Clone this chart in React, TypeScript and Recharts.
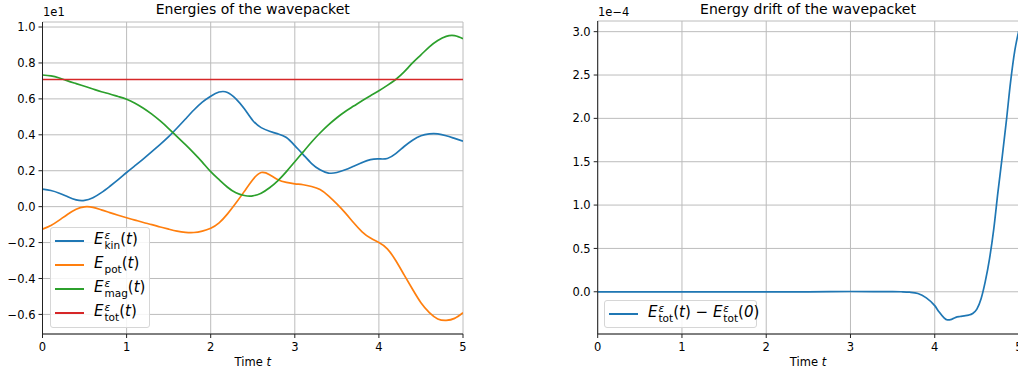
import React from 'react'
import {
  LineChart,
  Line,
  XAxis,
  YAxis,
  CartesianGrid,
} from 'recharts'

// time grid for the left panel (step 0.1)
const TIME = [
  0, 0.1, 0.2, 0.3, 0.4, 0.5, 0.6, 0.7, 0.8, 0.9,
  1, 1.1, 1.2, 1.3, 1.4, 1.5, 1.6, 1.7, 1.8, 1.9,
  2, 2.1, 2.2, 2.3, 2.4, 2.5, 2.6, 2.7, 2.8, 2.9,
  3, 3.1, 3.2, 3.3, 3.4, 3.5, 3.6, 3.7, 3.8, 3.9,
  4, 4.1, 4.2, 4.3, 4.4, 4.5, 4.6, 4.7, 4.8, 4.9,
  5,
]

// energies, in units of 1e1
const E_KIN = [
  0.098, 0.09, 0.075, 0.055, 0.038, 0.035, 0.05, 0.078, 0.113, 0.15,
  0.19, 0.228, 0.266, 0.306, 0.347, 0.39, 0.438, 0.488, 0.538, 0.582,
  0.615, 0.638, 0.636, 0.6, 0.545, 0.48, 0.44, 0.42, 0.405, 0.385,
  0.34, 0.29, 0.24, 0.205, 0.187, 0.19, 0.205, 0.225, 0.245, 0.262,
  0.266, 0.268, 0.295, 0.335, 0.37, 0.395, 0.405, 0.405, 0.395, 0.38,
  0.365,
]
const E_POT = [
  -0.125, -0.105, -0.075, -0.042, -0.014, -0.001, -0.004, -0.018, -0.033, -0.048,
  -0.062, -0.075, -0.088, -0.1, -0.113, -0.125, -0.136, -0.143, -0.144, -0.136,
  -0.12, -0.09, -0.04, 0.02, 0.085, 0.15, 0.19, 0.178, 0.15, 0.135,
  0.127, 0.122, 0.112, 0.095, 0.06, 0.015, -0.035, -0.09, -0.14, -0.175,
  -0.2, -0.235, -0.3, -0.38, -0.46, -0.535, -0.59, -0.625, -0.633, -0.622,
  -0.59,
]
const E_MAG = [
  0.733, 0.728, 0.716, 0.7, 0.685, 0.67, 0.655, 0.64, 0.627, 0.613,
  0.598, 0.576, 0.548, 0.515, 0.477, 0.435, 0.39, 0.345, 0.298, 0.248,
  0.195, 0.15, 0.108, 0.077, 0.062, 0.06, 0.075, 0.105, 0.145, 0.195,
  0.25, 0.305, 0.36, 0.41, 0.455, 0.495, 0.53, 0.56, 0.59, 0.618,
  0.645, 0.675, 0.708, 0.75, 0.8, 0.845, 0.89, 0.925, 0.948, 0.952,
  0.935,
]
const TOT_TIME = [0, 5]
const E_TOT = [0.708, 0.708]

// drift, in units of 1e-4
const DRIFT_TIME = [
  0, 0.5, 1, 1.5, 2, 2.5, 3, 3.5, 3.6, 3.7, 3.8, 3.9, 4, 4.05, 4.1, 4.15, 4.2,
  4.25, 4.3, 4.35, 4.4, 4.45, 4.5, 4.55, 4.6, 4.65, 4.7, 4.75, 4.8, 4.85, 4.9,
  4.95, 5,
]
const DRIFT = [
  0, 0, 0, 0, 0, 0, 0.003, 0.002, 0, -0.005, -0.02, -0.07, -0.16, -0.23, -0.29,
  -0.325, -0.318, -0.295, -0.285, -0.278, -0.27, -0.25, -0.2, -0.08, 0.12, 0.38,
  0.72, 1.15, 1.55, 1.97, 2.42, 2.78, 3.02,
]

const X_TICKS = [0, 1, 2, 3, 4, 5]
const LEFT_Y_TICKS = [-0.6, -0.4, -0.2, 0, 0.2, 0.4, 0.6, 0.8, 1.0]
const RIGHT_Y_TICKS = [0, 0.5, 1, 1.5, 2, 2.5, 3]

const BLUE = '#1f77b4'
const ORANGE = '#ff7f0e'
const GREEN = '#2ca02c'
const RED = '#d62728'

const FONT = '"DejaVu Sans", sans-serif'
const SPINE = '#222'
const GRID = '#bcbcbc'

const energyData = TIME.map((t, i) => ({ t, kin: E_KIN[i], pot: E_POT[i], mag: E_MAG[i] }))
const totData = TOT_TIME.map((t, i) => ({ t, tot: E_TOT[i] }))
const driftData = DRIFT_TIME.map((t, i) => ({ t, drift: DRIFT[i] }))

const fmt = (v: number) => {
  const s = Math.abs(v).toFixed(1)
  return v < -1e-9 ? '\u2212' + s : s
}

const tickStyle = { fill: '#000', fontSize: 11.5, fontFamily: FONT }

function Sym({ sup, sub, arg }: { sup?: string; sub: string; arg: string }) {
  return (
    <span style={{ whiteSpace: 'nowrap' }}>
      <i>E</i>
      <span
        style={{
          display: 'inline-flex',
          flexDirection: 'column',
          fontSize: '0.7em',
          lineHeight: 0.95,
          verticalAlign: '0.5em',
          marginLeft: 1,
        }}
      >
        <i>{sup || '\u00a0'}</i>
        <span>{sub}</span>
      </span>
      (<i>{arg}</i>)
    </span>
  )
}

function LegendRow({ color, children }: { color: string; children: React.ReactNode }) {
  return (
    <div style={{ height: 24, display: 'flex', alignItems: 'center' }}>
      <div style={{ width: 29, height: 1.7, background: color, marginLeft: 4, marginRight: 10, flex: 'none' }} />
      <div style={{ fontSize: 15, lineHeight: '15px', whiteSpace: 'nowrap' }}>{children}</div>
    </div>
  )
}

const legendBox: React.CSSProperties = {
  position: 'absolute',
  border: '1px solid #d6d6d6',
  borderRadius: 3,
  background: 'rgba(255,255,255,0.85)',
  fontFamily: FONT,
  color: '#000',
  boxSizing: 'border-box',
}

function TextAt({ x, y, size, children, center }: { x: number; y: number; size: number; children: React.ReactNode; center?: boolean }) {
  return (
    <div
      style={{
        position: 'absolute',
        left: x,
        top: y,
        fontSize: size,
        lineHeight: 1,
        fontFamily: FONT,
        color: '#000',
        whiteSpace: 'nowrap',
        transform: center ? 'translateX(-50%)' : undefined,
      }}
    >
      {children}
    </div>
  )
}

export default function App() {
  return (
    <div
      style={{
        position: 'absolute',
        left: 0,
        top: 0,
        width: 1018,
        height: 374,
        overflow: 'hidden',
        background: '#fff',
      }}
    >
      {/* left panel */}
      <div style={{ position: 'absolute', left: 0, top: 0 }}>
        <LineChart width={480} height={374} data={energyData} margin={{ top: 22, right: 17, bottom: 0, left: 0 }}>
          <CartesianGrid stroke={GRID} strokeWidth={1} />
          <XAxis
            dataKey="t"
            type="number"
            domain={[0, 5]}
            ticks={X_TICKS}
            interval={0}
            height={40}
            tickSize={4}
            tickMargin={5}
            tick={tickStyle}
            tickLine={{ stroke: SPINE }}
            axisLine={{ stroke: SPINE }}
            allowDataOverflow
          />
          <YAxis
            type="number"
            domain={[-0.709, 1.028]}
            ticks={LEFT_Y_TICKS}
            interval={0}
            width={42.5}
            tickSize={4}
            tickMargin={3}
            tick={tickStyle}
            tickFormatter={fmt}
            tickLine={{ stroke: SPINE }}
            axisLine={{ stroke: SPINE }}
            allowDataOverflow
          />
          <XAxis xAxisId="top" orientation="top" type="number" domain={[0, 5]} height={0} tick={false} tickLine={false} axisLine={{ stroke: SPINE }} />
          <YAxis yAxisId="right" orientation="right" type="number" domain={[0, 1]} width={0} tick={false} tickLine={false} axisLine={{ stroke: SPINE }} />
          <Line type="natural" dataKey="kin" stroke={BLUE} strokeWidth={1.7} dot={false} isAnimationActive={false} />
          <Line type="natural" dataKey="pot" stroke={ORANGE} strokeWidth={1.7} dot={false} isAnimationActive={false} />
          <Line type="natural" dataKey="mag" stroke={GREEN} strokeWidth={1.7} dot={false} isAnimationActive={false} />
          <Line type="linear" data={totData} dataKey="tot" stroke={RED} strokeWidth={1.7} dot={false} isAnimationActive={false} />
        </LineChart>
      </div>

      {/* right panel */}
      <div style={{ position: 'absolute', left: 550, top: 0 }}>
        <LineChart width={486} height={374} data={driftData} margin={{ top: 21, right: 17, bottom: 0, left: 0 }}>
          <CartesianGrid stroke={GRID} strokeWidth={1} />
          <XAxis
            dataKey="t"
            type="number"
            domain={[0, 5]}
            ticks={X_TICKS}
            interval={0}
            height={40}
            tickSize={4}
            tickMargin={5}
            tick={tickStyle}
            tickLine={{ stroke: SPINE }}
            axisLine={{ stroke: SPINE }}
            allowDataOverflow
          />
          <YAxis
            type="number"
            domain={[-0.487, 3.123]}
            ticks={RIGHT_Y_TICKS}
            interval={0}
            width={47.7}
            tickSize={4}
            tickMargin={3}
            tick={tickStyle}
            tickFormatter={fmt}
            tickLine={{ stroke: SPINE }}
            axisLine={{ stroke: SPINE }}
            allowDataOverflow
          />
          <XAxis xAxisId="top" orientation="top" type="number" domain={[0, 5]} height={0} tick={false} tickLine={false} axisLine={{ stroke: SPINE }} />
          <Line type="monotone" dataKey="drift" stroke={BLUE} strokeWidth={1.7} dot={false} isAnimationActive={false} />
        </LineChart>
      </div>

      {/* titles, offset texts, axis labels */}
      <TextAt x={252.75} y={2} size={14} center>Energies of the wavepacket</TextAt>
      <TextAt x={808} y={2} size={14} center>Energy drift of the wavepacket</TextAt>
      <TextAt x={43} y={7} size={11.5}>1e1</TextAt>
      <TextAt x={598} y={7} size={11.5}>1e{'\u2212'}4</TextAt>
      <TextAt x={252.75} y={357.3} size={11.5} center>Time <i>t</i></TextAt>
      <TextAt x={808} y={357.3} size={11.5} center>Time <i>t</i></TextAt>

      {/* legends */}
      <div style={{ ...legendBox, left: 50, top: 227, width: 100, height: 101, paddingTop: 1 }}>
        <LegendRow color={BLUE}><Sym sup="ε" sub="kin" arg="t" /></LegendRow>
        <LegendRow color={ORANGE}><Sym sub="pot" arg="t" /></LegendRow>
        <LegendRow color={GREEN}><Sym sup="ε" sub="mag" arg="t" /></LegendRow>
        <LegendRow color={RED}><Sym sup="ε" sub="tot" arg="t" /></LegendRow>
      </div>
      <div style={{ ...legendBox, left: 604, top: 300, width: 153, height: 28, paddingTop: 1 }}>
        <LegendRow color={BLUE}>
          <Sym sup="ε" sub="tot" arg="t" />{' \u2212 '}<Sym sup="ε" sub="tot" arg="0" />
        </LegendRow>
      </div>
    </div>
  )
}
